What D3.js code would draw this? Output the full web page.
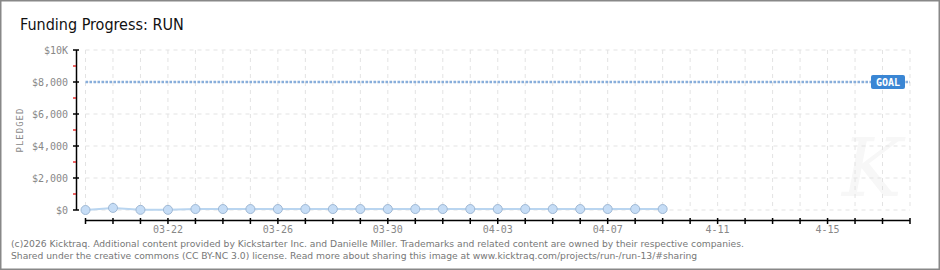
<!DOCTYPE html>
<html>
<head>
<meta charset="utf-8">
<script src="https://cdn.jsdelivr.net/npm/d3@7"></script>
<style>
  body { margin: 0; background: #fff; }
  svg { display: block; }
</style>
</head>
<body>
<svg id="chart" width="940" height="270"></svg>
<script>
// data
const days = ["2026-03-19","2026-03-20","2026-03-21","2026-03-22","2026-03-23","2026-03-24","2026-03-25",
  "2026-03-26","2026-03-27","2026-03-28","2026-03-29","2026-03-30","2026-03-31","2026-04-01","2026-04-02",
  "2026-04-03","2026-04-04","2026-04-05","2026-04-06","2026-04-07","2026-04-08","2026-04-09"];
const pledged = [0, 130, 10, 10, 60, 60, 60, 60, 60, 60, 60, 60, 60, 60, 60, 60, 60, 60, 60, 60, 60, 60];
const goal = 8000;
const xTickDates = ["2026-03-22","2026-03-26","2026-03-30","2026-04-03","2026-04-07","2026-04-11","2026-04-15"];
const xTickLabels = ["03-22","03-26","03-30","04-03","04-07","4-11","4-15"];
const yTicks = [0, 2000, 4000, 6000, 8000, 10000];
const yTickLabels = ["$0","$2,000","$4,000","$6,000","$8,000","$10K"];
const yMinor = [1000, 3000, 5000, 7000, 9000];

const parse = d3.timeParse("%Y-%m-%d");
const svg = d3.select("#chart");
const labelFont = "'DejaVu Sans Mono', monospace";

// frame
svg.append("rect").attr("x", 0.5).attr("y", 0.5).attr("width", 939).attr("height", 269)
  .attr("fill", "#fff").attr("stroke", "#888").attr("stroke-width", 2);

const x = d3.scaleTime()
  .domain([parse("2026-03-19"), parse("2026-04-18")])
  .range([85.5, 910]);
const y = d3.scaleLinear().domain([0, 10000]).range([210, 50]);

// watermark
svg.append("text").attr("x", 872).attr("y", 196).attr("text-anchor", "middle")
  .attr("font-family", "DejaVu Serif").attr("font-style", "italic").attr("font-size", 80)
  .attr("fill", "#f7f7f7").text("K");

// grid
const allDays = d3.timeDay.range(parse("2026-03-19"), d3.timeDay.offset(parse("2026-04-18"), 1));
svg.append("g").selectAll("line").data(allDays).join("line")
  .attr("x1", d => x(d)).attr("x2", d => x(d))
  .attr("y1", y(10000)).attr("y2", y(0))
  .attr("stroke", "#e3e3e3").attr("stroke-dasharray", "4,4");
svg.append("g").selectAll("line").data(yTicks).join("line")
  .attr("x1", x.range()[0]).attr("x2", x.range()[1])
  .attr("y1", d => y(d)).attr("y2", d => y(d))
  .attr("stroke", "#e3e3e3").attr("stroke-dasharray", "4,4");

// y axis
svg.append("line").attr("x1", 76.5).attr("x2", 76.5).attr("y1", y(10000)).attr("y2", y(0))
  .attr("stroke", "#000").attr("stroke-width", 1.5);
svg.append("g").selectAll("line").data(yTicks).join("line")
  .attr("x1", 73).attr("x2", 79).attr("y1", d => y(d)).attr("y2", d => y(d))
  .attr("stroke", "#000").attr("stroke-width", 1.5);
svg.append("g").selectAll("line").data(yMinor).join("line")
  .attr("x1", 73).attr("x2", 76).attr("y1", d => y(d)).attr("y2", d => y(d))
  .attr("stroke", "#e00000").attr("stroke-width", 1.2);
svg.append("g").selectAll("text").data(yTicks).join("text")
  .attr("x", 68).attr("y", d => y(d) + 4).attr("text-anchor", "end")
  .attr("font-family", labelFont).attr("font-size", 10).attr("fill", "#888")
  .text((d, i) => yTickLabels[i]);
svg.append("text").attr("transform", "translate(23,130) rotate(-90)")
  .attr("text-anchor", "middle").attr("font-family", labelFont).attr("font-size", 9)
  .attr("letter-spacing", 1).attr("fill", "#888").text("PLEDGED");

// x axis
svg.append("line").attr("x1", x.range()[0]).attr("x2", x.range()[1]).attr("y1", 220.5).attr("y2", 220.5)
  .attr("stroke", "#000").attr("stroke-width", 1.5);
svg.append("g").selectAll("line").data(allDays).join("line")
  .attr("x1", d => x(d)).attr("x2", d => x(d)).attr("y1", 218).attr("y2", 224)
  .attr("stroke", "#000").attr("stroke-width", 1.5);
svg.append("g").selectAll("text").data(xTickDates).join("text")
  .attr("x", d => x(parse(d))).attr("y", 233).attr("text-anchor", "middle")
  .attr("font-family", labelFont).attr("font-size", 10).attr("fill", "#888")
  .text((d, i) => xTickLabels[i]);

// goal line + label
svg.append("line").attr("x1", x.range()[0]).attr("x2", x.range()[1])
  .attr("y1", y(goal)).attr("y2", y(goal))
  .attr("stroke", "#88aedb").attr("stroke-width", 2.5).attr("stroke-dasharray", "2.5,1.5");
svg.append("rect").attr("x", 871).attr("y", y(goal) - 7).attr("width", 34).attr("height", 14)
  .attr("rx", 2).attr("fill", "#3a86d4");
svg.append("text").attr("x", 888).attr("y", y(goal) + 4).attr("text-anchor", "middle")
  .attr("font-family", labelFont).attr("font-size", 10).attr("font-weight", "bold")
  .attr("fill", "#fff").text("GOAL");

// pledged series
const series = days.map((d, i) => ({ date: parse(d), value: pledged[i] }));
svg.append("path").datum(series)
  .attr("d", d3.line().x(d => x(d.date)).y(d => y(d.value)))
  .attr("fill", "none").attr("stroke", "#b9d5f0").attr("stroke-width", 2);
svg.append("g").selectAll("circle").data(series).join("circle")
  .attr("cx", d => x(d.date)).attr("cy", d => y(d.value)).attr("r", 4.5)
  .attr("fill", "#c6ddf6").attr("stroke", "#9fb8d4").attr("stroke-width", 1);

// title
svg.append("text").attr("x", 20).attr("y", 30)
  .attr("font-family", "'DejaVu Sans Condensed', 'DejaVu Sans'").attr("font-size", 16)
  .attr("fill", "#111").text("Funding Progress: RUN");

// footer
const footer = [
  "(c)2026 Kicktraq. Additional content provided by Kickstarter Inc. and Danielle Miller. Trademarks and related content are owned by their respective companies.",
  "Shared under the creative commons (CC BY-NC 3.0) license. Read more about sharing this image at www.kicktraq.com/projects/run-/run-13/#sharing"
];
svg.append("g").selectAll("text").data(footer).join("text")
  .attr("x", 11).attr("y", (d, i) => 247 + i * 12)
  .attr("font-family", "'DejaVu Sans'").attr("font-size", 9.2).attr("fill", "#777")
  .text(d => d);
</script>
</body>
</html>
